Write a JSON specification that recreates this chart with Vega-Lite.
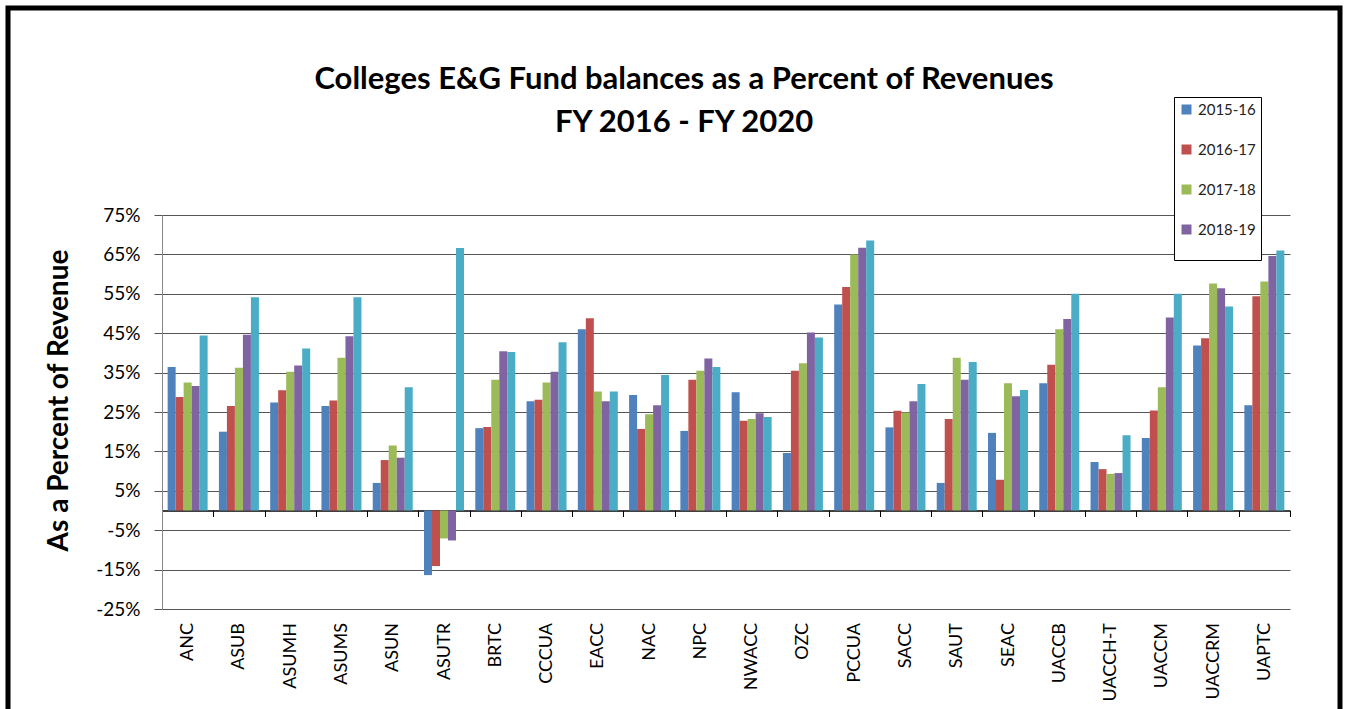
{
  "$schema": "https://vega.github.io/schema/vega-lite/v6.json",
  "autosize": {"type": "none"},
  "padding": {"left": 8, "top": 8, "right": 6, "bottom": 0},
  "width": 1332,
  "height": 710,
  "background": "white",
  "config": {
    "view": {"stroke": "#000000", "strokeWidth": 5},
    "font": "Lato"
  },
  "title": {
    "text": ["Colleges E&G Fund balances as a Percent of Revenues", "FY 2016 - FY 2020"],
    "anchor": "middle",
    "frame": "group",
    "baseline": "top",
    "offset": 0,
    "dy": 131,
    "dx": 10,
    "font": "Lato",
    "fontSize": 31,
    "fontWeight": "bold",
    "lineHeight": 43,
    "color": "#000000"
  },
  "data": {
    "values": [
      {"college": "ANC", "year": "2015-16", "value": 36.4},
      {"college": "ANC", "year": "2016-17", "value": 28.8},
      {"college": "ANC", "year": "2017-18", "value": 32.5},
      {"college": "ANC", "year": "2018-19", "value": 31.6},
      {"college": "ANC", "year": "2019-20", "value": 44.4},
      {"college": "ASUB", "year": "2015-16", "value": 20.0},
      {"college": "ASUB", "year": "2016-17", "value": 26.5},
      {"college": "ASUB", "year": "2017-18", "value": 36.2},
      {"college": "ASUB", "year": "2018-19", "value": 44.6},
      {"college": "ASUB", "year": "2019-20", "value": 54.1},
      {"college": "ASUMH", "year": "2015-16", "value": 27.4},
      {"college": "ASUMH", "year": "2016-17", "value": 30.5},
      {"college": "ASUMH", "year": "2017-18", "value": 35.2},
      {"college": "ASUMH", "year": "2018-19", "value": 36.8},
      {"college": "ASUMH", "year": "2019-20", "value": 41.1},
      {"college": "ASUMS", "year": "2015-16", "value": 26.5},
      {"college": "ASUMS", "year": "2016-17", "value": 27.9},
      {"college": "ASUMS", "year": "2017-18", "value": 38.8},
      {"college": "ASUMS", "year": "2018-19", "value": 44.2},
      {"college": "ASUMS", "year": "2019-20", "value": 54.1},
      {"college": "ASUN", "year": "2015-16", "value": 7.0},
      {"college": "ASUN", "year": "2016-17", "value": 12.8},
      {"college": "ASUN", "year": "2017-18", "value": 16.5},
      {"college": "ASUN", "year": "2018-19", "value": 13.4},
      {"college": "ASUN", "year": "2019-20", "value": 31.3},
      {"college": "ASUTR", "year": "2015-16", "value": -16.4},
      {"college": "ASUTR", "year": "2016-17", "value": -14.1},
      {"college": "ASUTR", "year": "2017-18", "value": -7.1},
      {"college": "ASUTR", "year": "2018-19", "value": -7.6},
      {"college": "ASUTR", "year": "2019-20", "value": 66.6},
      {"college": "BRTC", "year": "2015-16", "value": 20.9},
      {"college": "BRTC", "year": "2016-17", "value": 21.2},
      {"college": "BRTC", "year": "2017-18", "value": 33.2},
      {"college": "BRTC", "year": "2018-19", "value": 40.4},
      {"college": "BRTC", "year": "2019-20", "value": 40.2},
      {"college": "CCCUA", "year": "2015-16", "value": 27.7},
      {"college": "CCCUA", "year": "2016-17", "value": 28.1},
      {"college": "CCCUA", "year": "2017-18", "value": 32.5},
      {"college": "CCCUA", "year": "2018-19", "value": 35.2},
      {"college": "CCCUA", "year": "2019-20", "value": 42.7},
      {"college": "EACC", "year": "2015-16", "value": 46.0},
      {"college": "EACC", "year": "2016-17", "value": 48.8},
      {"college": "EACC", "year": "2017-18", "value": 30.2},
      {"college": "EACC", "year": "2018-19", "value": 27.7},
      {"college": "EACC", "year": "2019-20", "value": 30.2},
      {"college": "NAC", "year": "2015-16", "value": 29.3},
      {"college": "NAC", "year": "2016-17", "value": 20.7},
      {"college": "NAC", "year": "2017-18", "value": 24.4},
      {"college": "NAC", "year": "2018-19", "value": 26.7},
      {"college": "NAC", "year": "2019-20", "value": 34.4},
      {"college": "NPC", "year": "2015-16", "value": 20.2},
      {"college": "NPC", "year": "2016-17", "value": 33.2},
      {"college": "NPC", "year": "2017-18", "value": 35.5},
      {"college": "NPC", "year": "2018-19", "value": 38.6},
      {"college": "NPC", "year": "2019-20", "value": 36.4},
      {"college": "NWACC", "year": "2015-16", "value": 30.0},
      {"college": "NWACC", "year": "2016-17", "value": 22.8},
      {"college": "NWACC", "year": "2017-18", "value": 23.2},
      {"college": "NWACC", "year": "2018-19", "value": 24.7},
      {"college": "NWACC", "year": "2019-20", "value": 23.7},
      {"college": "OZC", "year": "2015-16", "value": 14.6},
      {"college": "OZC", "year": "2016-17", "value": 35.5},
      {"college": "OZC", "year": "2017-18", "value": 37.4},
      {"college": "OZC", "year": "2018-19", "value": 45.2},
      {"college": "OZC", "year": "2019-20", "value": 43.9},
      {"college": "PCCUA", "year": "2015-16", "value": 52.3},
      {"college": "PCCUA", "year": "2016-17", "value": 56.7},
      {"college": "PCCUA", "year": "2017-18", "value": 65.0},
      {"college": "PCCUA", "year": "2018-19", "value": 66.7},
      {"college": "PCCUA", "year": "2019-20", "value": 68.5},
      {"college": "SACC", "year": "2015-16", "value": 21.1},
      {"college": "SACC", "year": "2016-17", "value": 25.3},
      {"college": "SACC", "year": "2017-18", "value": 24.9},
      {"college": "SACC", "year": "2018-19", "value": 27.7},
      {"college": "SACC", "year": "2019-20", "value": 32.1},
      {"college": "SAUT", "year": "2015-16", "value": 7.0},
      {"college": "SAUT", "year": "2016-17", "value": 23.2},
      {"college": "SAUT", "year": "2017-18", "value": 38.8},
      {"college": "SAUT", "year": "2018-19", "value": 33.2},
      {"college": "SAUT", "year": "2019-20", "value": 37.7},
      {"college": "SEAC", "year": "2015-16", "value": 19.7},
      {"college": "SEAC", "year": "2016-17", "value": 7.8},
      {"college": "SEAC", "year": "2017-18", "value": 32.3},
      {"college": "SEAC", "year": "2018-19", "value": 29.0},
      {"college": "SEAC", "year": "2019-20", "value": 30.6},
      {"college": "UACCB", "year": "2015-16", "value": 32.3},
      {"college": "UACCB", "year": "2016-17", "value": 37.0},
      {"college": "UACCB", "year": "2017-18", "value": 46.0},
      {"college": "UACCB", "year": "2018-19", "value": 48.6},
      {"college": "UACCB", "year": "2019-20", "value": 55.0},
      {"college": "UACCH-T", "year": "2015-16", "value": 12.3},
      {"college": "UACCH-T", "year": "2016-17", "value": 10.5},
      {"college": "UACCH-T", "year": "2017-18", "value": 9.3},
      {"college": "UACCH-T", "year": "2018-19", "value": 9.5},
      {"college": "UACCH-T", "year": "2019-20", "value": 19.1},
      {"college": "UACCM", "year": "2015-16", "value": 18.4},
      {"college": "UACCM", "year": "2016-17", "value": 25.4},
      {"college": "UACCM", "year": "2017-18", "value": 31.3},
      {"college": "UACCM", "year": "2018-19", "value": 49.0},
      {"college": "UACCM", "year": "2019-20", "value": 55.0},
      {"college": "UACCRM", "year": "2015-16", "value": 41.9},
      {"college": "UACCRM", "year": "2016-17", "value": 43.7},
      {"college": "UACCRM", "year": "2017-18", "value": 57.6},
      {"college": "UACCRM", "year": "2018-19", "value": 56.4},
      {"college": "UACCRM", "year": "2019-20", "value": 51.8},
      {"college": "UAPTC", "year": "2015-16", "value": 26.7},
      {"college": "UAPTC", "year": "2016-17", "value": 54.4},
      {"college": "UAPTC", "year": "2017-18", "value": 58.1},
      {"college": "UAPTC", "year": "2018-19", "value": 64.6},
      {"college": "UAPTC", "year": "2019-20", "value": 66.0}
    ]
  },
  "mark": {"type": "bar"},
  "encoding": {
    "x": {
      "field": "college",
      "type": "nominal",
      "sort": null,
      "scale": {"range": [154, 1282], "paddingInner": 0, "paddingOuter": 0},
      "axis": {
        "title": null,
        "orient": "bottom",
        "offset": -207.5,
        "domain": true,
        "domainColor": "#000000",
        "domainWidth": 1.5,
        "ticks": true,
        "tickBand": "extent",
        "tickSize": 6,
        "tickColor": "#000000",
        "tickWidth": 1,
        "grid": false,
        "labelAngle": 270,
        "labelPadding": 106,
        "labelFont": "Lato",
        "labelFontSize": 18,
        "labelColor": "#000000"
      }
    },
    "xOffset": {
      "field": "year",
      "type": "nominal",
      "scale": {"paddingInner": 0, "paddingOuter": 0.705}
    },
    "y": {
      "field": "value",
      "type": "quantitative",
      "scale": {"domain": [-25, 75], "range": [601, 207], "nice": false},
      "axis": {
        "title": "As a Percent of Revenue",
        "titleFont": "Lato",
        "titleFontSize": 28,
        "titleFontWeight": "bold",
        "titleColor": "#000000",
        "titleX": -95,
        "titleY": 392,
        "titleAngle": -90,
        "titleAlign": "center",
        "titleBaseline": "alphabetic",
        "offset": -154,
        "values": [-25, -15, -5, 5, 15, 25, 35, 45, 55, 65, 75],
        "labelExpr": "datum.value + '%'",
        "labelFont": "Lato",
        "labelFontSize": 19,
        "labelColor": "#000000",
        "labelPadding": 14,
        "tickSize": 8,
        "tickColor": "#555555",
        "domainColor": "#888888",
        "grid": true,
        "gridColor": "#555555",
        "gridWidth": 1,
        "gridOpacity": 1
      }
    },
    "color": {
      "field": "year",
      "type": "nominal",
      "scale": {
        "domain": ["2015-16", "2016-17", "2017-18", "2018-19", "2019-20"],
        "range": ["#4F81BD", "#C0504D", "#9BBB59", "#8064A2", "#4BACC6"]
      },
      "legend": {
        "orient": "none",
        "legendX": 1166,
        "legendY": 89,
        "values": ["2015-16", "2016-17", "2017-18", "2018-19"],
        "title": " ",
        "titleOrient": "bottom",
        "titleFontSize": 12,
        "titlePadding": 6,
        "strokeColor": "#000000",
        "fillColor": "#ffffff",
        "padding": 5,
        "rowPadding": 24,
        "symbolType": "square",
        "symbolSize": 100,
        "symbolStrokeWidth": 0,
        "labelOffset": 4,
        "labelFont": "Lato",
        "labelFontSize": 15,
        "labelColor": "#222222"
      }
    }
  }
}
